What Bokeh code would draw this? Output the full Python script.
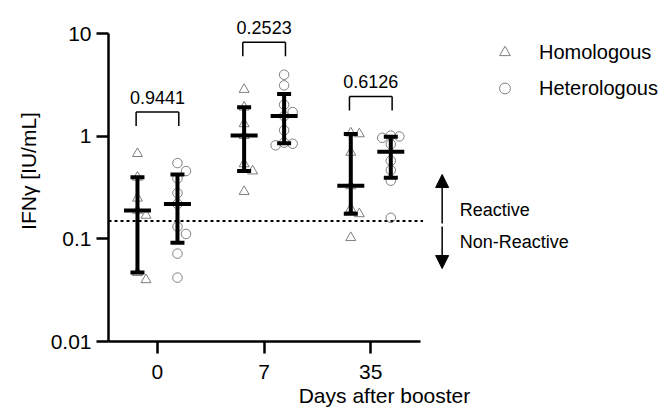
import numpy as np
from bokeh.plotting import figure
from bokeh.models import (FixedTicker, CustomJSTickFormatter, Legend, LegendItem,
                          Arrow, NormalHead, ColumnDataSource, Range1d)
from bokeh.core.properties import value
from bokeh.embed import file_html
from bokeh.resources import INLINE

# ---------------- data ----------------
days = ["0", "7", "35"]
groups = ["Homologous", "Heterologous"]
homologous_d0 = [0.68, 0.40, 0.25, 0.19, 0.17, 0.047, 0.040]
homologous_d7 = [2.87, 1.93, 1.33, 1.02, 0.54, 0.46, 0.29]
homologous_d35 = [1.08, 1.06, 0.70, 0.33, 0.197, 0.176, 0.103]
heterologous_d0 = [0.55, 0.46, 0.39, 0.28, 0.22, 0.132, 0.112, 0.072, 0.042]
heterologous_d7 = [4.0, 3.15, 2.04, 1.73, 1.58, 1.15, 0.87, 0.85, 0.82]
heterologous_d35 = [1.02, 1.00, 0.97, 0.84, 0.58, 0.47, 0.37, 0.161]
p_values = ["0.9441", "0.2523", "0.6126"]
threshold = 0.15
y_ticks = [0.01, 0.1, 1, 10]

homologous = [homologous_d0, homologous_d7, homologous_d35]
heterologous = [heterologous_d0, heterologous_d7, heterologous_d35]

# ---------------- layout constants ----------------
FONT = "Liberation Sans"
PX_PER_DECADE = 102.5
PX_PER_UNIT = 106.67
OFFSET = 0.1875
X_START, X_END, X_AXIS_END = -0.459, 4.716, 2.465
Y_START, Y_END = 0.01, 21.2
bracket_level = [1.73, 8.3, 2.46]
GREY = "#7f7f7f"


def swarm(vals, step=0.08, d=8.4):
    placed, xs = [], [0.0] * len(vals)
    order = sorted(range(len(vals)), key=lambda i: -vals[i])
    for i in order:
        py = np.log10(vals[i]) * PX_PER_DECADE
        k = 0
        for k in [0, 1, -1, 2, -2, 3, -3]:
            px = k * step * PX_PER_UNIT
            if all((px - qx) ** 2 + (py - qy) ** 2 >= d * d for qx, qy in placed):
                break
        placed.append((k * step * PX_PER_UNIT, py))
        xs[i] = k * step
    return xs


def group_source(data, sign):
    xs, ys = [], []
    for i, vals in enumerate(data):
        jit = swarm(vals)
        xs += [i + sign * OFFSET + j for j in jit]
        ys += list(vals)
    return ColumnDataSource(dict(x=xs, y=ys))


def stats_source(data, sign):
    x, q1, med, q3 = [], [], [], []
    for i, vals in enumerate(data):
        a, b, c = np.percentile(vals, [25, 50, 75], method="weibull")
        x.append(i + sign * OFFSET); q1.append(a); med.append(b); q3.append(c)
    return ColumnDataSource(dict(x=x, q1=q1, med=med, q3=q3))


p = figure(width=660, height=414,
           x_range=Range1d(X_START, X_END), y_range=Range1d(Y_START, Y_END),
           y_axis_type="log", output_backend="svg", toolbar_location=None,
           min_border_left=108, min_border_right=0, min_border_top=0,
           min_border_bottom=73)
p.outline_line_color = None
p.grid.visible = False
p.background_fill_color = "white"

# axes
for ax in (p.xaxis[0], p.yaxis[0]):
    ax.axis_line_width = 2.5
    ax.axis_line_color = "black"
    ax.major_tick_line_width = 2.5
    ax.major_tick_line_color = "black"
    ax.major_tick_out = 12
    ax.major_tick_in = 0
    ax.minor_tick_line_color = None
    ax.major_label_text_font = FONT
    ax.major_label_text_font_size = "21px"
    ax.major_label_text_color = "black"
    ax.axis_label_text_font = FONT
    ax.axis_label_text_font_size = "21px"
    ax.axis_label_text_font_style = "normal"
    ax.axis_label_text_color = "black"

yax = p.yaxis[0]
yax.ticker = FixedTicker(ticks=y_ticks)
yax.formatter = CustomJSTickFormatter(code="return tick.toString();")
yax.bounds = (y_ticks[0], y_ticks[-1])
yax.major_label_standoff = 5
yax.axis_label = "IFNγ [IU/mL]"
yax.axis_label_standoff = 8

xax = p.xaxis[0]
xax.ticker = FixedTicker(ticks=list(range(len(days))))
xax.major_label_overrides = {i: d for i, d in enumerate(days)}
xax.bounds = (X_START, X_AXIS_END)
xax.major_label_standoff = 11
xax.axis_label = "Days after booster"
xax.axis_label_standoff = 2

# threshold line
p.segment(x0=[X_START], y0=[threshold], x1=[X_AXIS_END + 0.025], y1=[threshold],
          line_color="black", line_width=2, line_dash="3 3")

# points
src_h = group_source(homologous, -1)
src_e = group_source(heterologous, +1)
r_h = p.scatter("x", "y", source=src_h, marker="triangle", size=10,
                fill_color=None, line_color=GREY, line_width=1)
r_e = p.scatter("x", "y", source=src_e, marker="circle", size=9.5,
                fill_color=None, line_color=GREY, line_width=1)

# median + IQR
for sign, data in ((-1, homologous), (1, heterologous)):
    s = stats_source(data, sign)
    p.segment(x0="x", y0="q1", x1="x", y1="q3", source=s, line_color="black",
              line_width=4)
    p.scatter("x", "q1", source=s, marker="dash", size=14, line_color="black",
              line_width=4)
    p.scatter("x", "q3", source=s, marker="dash", size=14, line_color="black",
              line_width=4)
    p.scatter("x", "med", source=s, marker="dash", size=27, line_color="black",
              line_width=4)

# brackets with p-values
leg = 10 ** (-14 / PX_PER_DECADE)
bx = list(range(len(days)))
p.segment(x0=[i - 0.2 for i in bx], y0=bracket_level, x1=[i + 0.2 for i in bx],
          y1=bracket_level, line_color="black", line_width=1.5)
p.segment(x0=[i - 0.2 for i in bx], y0=bracket_level, x1=[i - 0.2 for i in bx],
          y1=[b * leg for b in bracket_level], line_color="black", line_width=1.5)
p.segment(x0=[i + 0.2 for i in bx], y0=bracket_level, x1=[i + 0.2 for i in bx],
          y1=[b * leg for b in bracket_level], line_color="black", line_width=1.5)
p.text(x=bx, y=bracket_level, text=p_values, y_offset=-15,
       text_font=value(FONT), text_font_size="18px", text_align="center",
       text_baseline="middle", text_color="black")

# reactive arrows
ax_x = 2.669
p.add_layout(Arrow(end=NormalHead(size=13, fill_color="black", line_color="black"),
                   x_start=ax_x, y_start=threshold * 0.944, x_end=ax_x,
                   y_end=threshold * 2.84, line_width=1.5, line_color="black"))
p.add_layout(Arrow(end=NormalHead(size=13, fill_color="black", line_color="black"),
                   x_start=ax_x, y_start=threshold * 0.883, x_end=ax_x,
                   y_end=threshold * 0.343, line_width=1.5, line_color="black"))
p.text(x=[2.834, 2.834], y=[threshold * 1.265, threshold * 0.62],
       text=["Reactive", "Non-Reactive"], text_font=value(FONT),
       text_font_size="18px", text_align="left", text_baseline="middle",
       text_color="black")

# legend
legend = Legend(items=[LegendItem(label=groups[0], renderers=[r_h]),
                       LegendItem(label=groups[1], renderers=[r_e])],
                location=(383, 235), glyph_width=27, glyph_height=36,
                label_height=36, spacing=0, padding=0, margin=0,
                label_standoff=21, label_text_font=FONT,
                label_text_font_size="20px", label_text_color="black",
                border_line_color=None, background_fill_alpha=0)
p.add_layout(legend)

open("out.html", "w").write(file_html(p, INLINE))
